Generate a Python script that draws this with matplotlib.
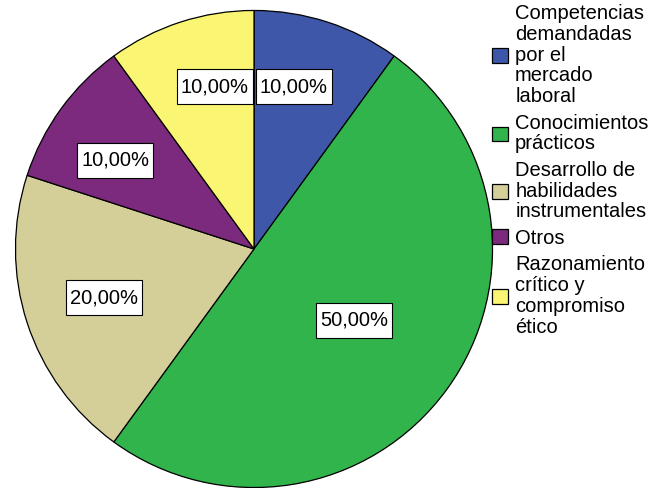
import matplotlib
matplotlib.use('Agg')
import numpy as np
import matplotlib.pyplot as plt

plt.rcParams['font.family'] = ['Liberation Sans', 'DejaVu Sans']

# datos del gráfico
categorias = ['Competencias\ndemandadas\npor el\nmercado\nlaboral',
              'Conocimientos\nprácticos',
              'Desarrollo de\nhabilidades\ninstrumentales',
              'Otros',
              'Razonamiento\ncrítico y\ncompromiso\nético']
porcentajes = [10, 50, 20, 10, 10]
colores = ['#3F57A8', '#31B44B', '#D4CF99', '#7B2A7E', '#FAF673']

# posición de las etiquetas (radio y ajuste de ángulo en grados)
radio_etiq = [0.70, 0.515, 0.66, 0.69, 0.70]
ajuste_ang = [4.3, 0.6, 0, 3.4, -4.4]

fig = plt.figure(figsize=(6.53, 4.88), dpi=100)
ax = fig.add_axes([15 / 653, 0, 478 / 653, 478 / 488])

wedges, _ = ax.pie(porcentajes, colors=colores, startangle=90, counterclock=False,
                   wedgeprops=dict(edgecolor='black', linewidth=0.9))
ax.set_xlim(-1.002, 1.002)
ax.set_ylim(-1.002, 1.002)
ax.set_aspect('equal')

for i, w in enumerate(wedges):
    ang = np.deg2rad((w.theta1 + w.theta2) / 2 + ajuste_ang[i])
    x = radio_etiq[i] * np.cos(ang)
    y = radio_etiq[i] * np.sin(ang)
    t = ax.text(x, y, f'{porcentajes[i]:.2f}%'.replace('.', ','), ha='center', va='center',
                fontsize=14.5,
                bbox=dict(boxstyle='square,pad=0.2', fc='white', ec='black', lw=0.8))
    # caja más alta que ancha, como en SPSS
    t.get_bbox_patch().set_mutation_aspect(2.0)

leg = fig.legend(wedges, categorias, loc='upper left', bbox_to_anchor=(492 / 653, 0.992),
                 frameon=False, fontsize=14.5, handlelength=0.8, handleheight=0.75,
                 handletextpad=0.35, labelspacing=0.37, borderpad=0, borderaxespad=0)
for t in leg.get_texts():
    t.set_linespacing(1.12)

fig.savefig('out.png', dpi=100)
